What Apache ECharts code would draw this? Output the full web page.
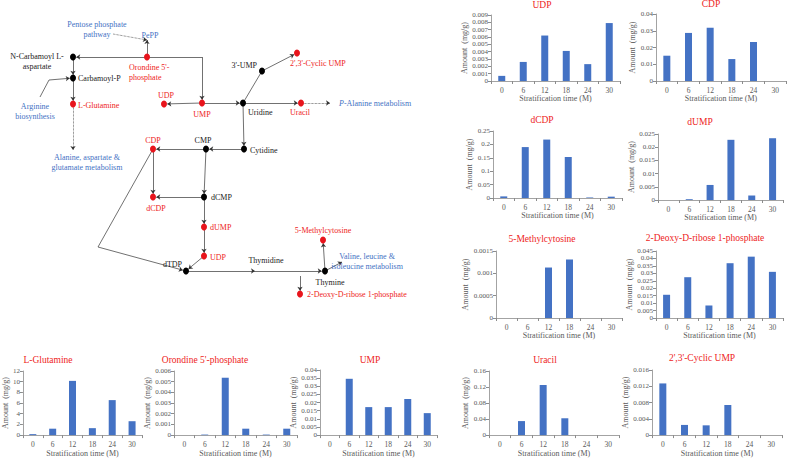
<!DOCTYPE html>
<html><head><meta charset="utf-8">
<script src="https://cdn.jsdelivr.net/npm/echarts/dist/echarts.min.js"></script>
<style>html,body{margin:0;padding:0;background:#fff}#c{width:787px;height:458px}</style>
</head><body><div id="c"></div>
<script>
const RED = '#EE1D23', BLUE = '#4472C4', SERIF = 'Liberation Serif';

// ---------- data ----------
const categories = ['0', '6', '12', '18', '24', '30'];
const panelTitles = ['UDP', 'CDP', 'dCDP', 'dUMP', '5-Methylcytosine', '2-Deoxy-D-ribose 1-phosphate',
  'Uracil', "2',3'-Cyclic UMP", 'L-Glutamine', "Orondine 5'-phosphate", 'UMP'];
const udpValues = [0.0007, 0.0026, 0.0062, 0.0041, 0.0023, 0.0079];
const cdpValues = [0.0151, 0.0287, 0.0318, 0.0131, 0.0233, 0];
const dcdpValues = [0.006, 0.19, 0.218, 0.153, 0.002, 0.005];
const dumpValues = [0, 0.0003, 0.0057, 0.0228, 0.0017, 0.0234];
const methylcytosineValues = [0, 0, 0.00113, 0.00131, 0, 0];
const deoxyriboseValues = [0.0156, 0.0274, 0.0084, 0.0368, 0.0412, 0.031];
const uracilValues = [0, 0.035, 0.125, 0.042, 0, 0];
const cyclicUmpValues = [0.0127, 0.0025, 0.0024, 0.0074, 0, 0];
const glutamineValues = [0.18, 1.2, 10.15, 1.3, 6.55, 2.6];
const orotidineValues = [0, 0.00005, 0.00537, 0.0006, 0.00005, 0.0006];
const umpValues = [0, 0.0346, 0.0172, 0.0172, 0.0222, 0.0135];
const panelValues = [udpValues, cdpValues, dcdpValues, dumpValues, methylcytosineValues, deoxyriboseValues,
  uracilValues, cyclicUmpValues, glutamineValues, orotidineValues, umpValues];
const axisMax = [0.009, 0.04, 0.25, 0.025, 0.0015, 0.045, 0.16, 0.016, 12, 0.006, 0.04];
const axisStep = [0.001, 0.01, 0.05, 0.005, 0.0005, 0.005, 0.04, 0.004, 2, 0.001, 0.005];
const yAxisName = 'Amount  (mg/g)';
const xAxisName = 'Stratification time (M)';

// pathway diagram: [id, label, kind]
const diagramNodes = [
  ['ncarb', 'N-Carbamoyl L-\naspartate', 'black'],
  ['carbp', 'Carbamoyl-P', 'black'],
  ['glut', 'L-Glutamine', 'red'],
  ['orot', "Orondine 5'-\nphosphate", 'red'],
  ['pepp', 'PePP', 'blue'],
  ['ppp', 'Pentose phosphate\npathway', 'blue'],
  ['pppEnd', '', 'hidden'],
  ['peppIn', '', 'hidden'],
  ['orotCorner', '', 'hidden'],
  ['arg', 'Arginine\nbiosynthesis', 'blue'],
  ['argStart', '', 'hidden'],
  ['argCorner', '', 'hidden'],
  ['ala', 'Alanine, aspartate &\nglutamate metabolism', 'blue'],
  ['alaIn', '', 'hidden'],
  ['ump', 'UMP', 'red'],
  ['udp1', 'UDP', 'red'],
  ['uridine', 'Uridine', 'black'],
  ['ump3', "3'-UMP", 'black'],
  ['cyc', "2',3'-Cyclic UMP", 'red'],
  ['uracil', 'Uracil', 'red'],
  ['beta', '{i|P}-Alanine metabolism', 'blue'],
  ['betaIn', '', 'hidden'],
  ['cytidine', 'Cytidine', 'black'],
  ['cmp', 'CMP', 'black'],
  ['cdp', 'CDP', 'red'],
  ['dcmp', 'dCMP', 'black'],
  ['dcdp', 'dCDP', 'red'],
  ['dump', 'dUMP', 'red'],
  ['udp2', 'UDP', 'red'],
  ['dtdp', 'dTDP', 'black'],
  ['diagCorner', '', 'hidden'],
  ['thymidine', 'Thymidine', 'hidden'],
  ['thymidineIn', '', 'hidden'],
  ['thymine', 'Thymine', 'black'],
  ['methyl', '5-Methylcytosine', 'red'],
  ['valine', 'Valine, leucine &\nisoleucine metabolism', 'blue'],
  ['valineIn', '', 'hidden'],
  ['deoxySrc', '', 'hidden'],
  ['deoxy', '2-Deoxy-D-ribose 1-phosphate', 'red']
];
// [source, target, style]
const diagramLinks = [
  ['pppEnd', 'peppIn', 'dotted'], ['orot', 'peppIn', 'arrow'], ['orot', 'ncarb', 'arrow'],
  ['orot', 'orotCorner', 'line'], ['orotCorner', 'ump', 'arrow'],
  ['ncarb', 'carbp', 'arrow'], ['carbp', 'glut', 'arrow'], ['glut', 'alaIn', 'dotted'],
  ['argStart', 'argCorner', 'line'], ['argCorner', 'carbp', 'arrow'],
  ['ump', 'udp1', 'arrow'], ['ump', 'uridine', 'arrow'], ['uridine', 'ump3', 'line'], ['ump3', 'cyc', 'arrow'],
  ['uridine', 'uracil', 'arrow'], ['uracil', 'betaIn', 'dotted'], ['uridine', 'cytidine', 'arrow'],
  ['cytidine', 'cmp', 'arrow'], ['cmp', 'cdp', 'arrow'], ['cmp', 'dcmp', 'arrow'], ['cdp', 'dcdp', 'arrow'],
  ['dcmp', 'dcdp', 'arrow'], ['dcmp', 'dump', 'arrow'], ['dump', 'udp2', 'arrow'], ['udp2', 'dtdp', 'arrow'],
  ['cdp', 'diagCorner', 'line'], ['diagCorner', 'dtdp', 'arrow'], ['dtdp', 'thymidineIn', 'arrow'],
  ['thymidineIn', 'thymine', 'arrow'], ['thymine', 'methyl', 'arrow'], ['thymine', 'valineIn', 'arrow'],
  ['deoxySrc', 'deoxy', 'arrow']
];

// ---------- layout (positions / styles) ----------
const panelBoxes = [[491, 15, 129, 66], [656, 14, 130, 67], [493, 131, 129, 67], [658, 134, 125, 66],
  [496, 251, 126, 67], [656, 251, 127, 67], [489, 371, 130, 66], [652, 370, 130, 66],
  [18, 371, 124, 67], [174, 371, 123, 67], [320, 370, 117, 67]];
const titleAt = [[542, 5], [711, 4], [542, 120], [700, 122], [542, 239], [705, 238], [545, 360], [702, 358],
  [48, 360], [205, 360], [370, 360]];
const yNameGap = [18, 17, 16, 19, 24, 20, 10, 16, 6, 13, 23];

// node position [x,y] and label offset [dx,dy,align]
const nodeLayout = {
  ncarb: [73, 57, -36, 4, 'center'], carbp: [73, 78, 5, 0, 'left'], glut: [73, 104, 5, 1, 'left'],
  orot: [147, 57, -18, 15, 'left'], pepp: [150, 35, 0, 0, 'center'], ppp: [97, 29, 0, 0, 'center'],
  pppEnd: [113, 34], peppIn: [147, 40], orotCorner: [202, 57],
  arg: [35, 111, 0, 0, 'center'], argStart: [40, 97], argCorner: [49, 80],
  ala: [87, 162, 0, 0, 'center'], alaIn: [73, 150],
  ump: [202, 103, 0, 11, 'center'], udp1: [164, 104, 2, -9, 'center'], uridine: [243, 103, 5, 9, 'left'],
  ump3: [262, 71, -5, -6, 'right'], cyc: [297, 53, -7, 10, 'left'], uracil: [301, 103, -1, 9, 'center'],
  beta: [339, 103, 0, 0, 'left'], betaIn: [330, 103],
  cytidine: [244, 149, 6, 1, 'left'], cmp: [206, 149, -3, -9, 'center'], cdp: [153, 149, 0, -9, 'center'],
  dcmp: [204, 197, 7, 0, 'left'], dcdp: [153, 197, 3, 11, 'center'], dump: [204, 227, 6, 0, 'left'],
  udp2: [204, 256, 6, 1, 'left'], dtdp: [186, 271, -4, -7, 'right'], diagCorner: [98, 247],
  thymidine: [266, 260, 0, 0, 'center'], thymidineIn: [255, 271],
  thymine: [325, 271, 5, 11, 'center'], methyl: [323, 240, 0, -10, 'center'],
  valine: [367, 261, 0, 0, 'center'], valineIn: [342, 262], deoxySrc: [300, 276],
  deoxy: [300, 294, 7, 0, 'left']
};

// ---------- build ----------
const grids = [], xAxes = [], yAxes = [], series = [], graphics = [];
panelValues.forEach((vals, i) => {
  const b = panelBoxes[i];
  grids.push({ left: b[0], top: b[1], width: b[2], height: b[3], containLabel: false });
  xAxes.push({
    type: 'category', gridIndex: i, data: categories,
    axisLine: { lineStyle: { color: '#8c8c8c', width: 0.8 } },
    axisTick: { show: true, alignWithLabel: false, length: 3, lineStyle: { color: '#8c8c8c' } },
    axisLabel: { fontSize: 7.5, color: '#595959', margin: 5, interval: 0, fontFamily: SERIF },
    name: xAxisName, nameLocation: 'middle', nameGap: 13,
    nameTextStyle: { fontSize: 8, color: '#595959', fontFamily: SERIF }
  });
  yAxes.push({
    type: 'value', gridIndex: i, min: 0, max: axisMax[i], interval: axisStep[i],
    axisLine: { show: true, lineStyle: { color: '#8c8c8c', width: 0.8 } },
    axisTick: { show: true, length: 3, lineStyle: { color: '#8c8c8c' } },
    splitLine: { show: false },
    axisLabel: { fontSize: 7, color: '#595959', margin: 3, fontFamily: SERIF },
    name: yAxisName, nameLocation: 'middle', nameGap: yNameGap[i], nameRotate: 90,
    nameTextStyle: { fontSize: 8, color: '#595959', fontFamily: SERIF }
  });
  series.push({
    type: 'bar', xAxisIndex: i, yAxisIndex: i, data: vals, barWidth: 7,
    itemStyle: { color: '#4472C4' }, silent: true
  });
  graphics.push({
    type: 'text', x: titleAt[i][0], y: titleAt[i][1],
    style: { text: panelTitles[i], fill: RED, font: '9.5px ' + SERIF, textAlign: 'center', textVerticalAlign: 'middle' }
  });
});

// hidden full-canvas coordinate system for the diagram
const D = panelValues.length;
grids.push({ left: 0, top: 0, width: 787, height: 458 });
xAxes.push({ type: 'value', gridIndex: D, min: 0, max: 787, show: false });
yAxes.push({ type: 'value', gridIndex: D, min: 0, max: 458, inverse: true, show: false });

const nodeData = diagramNodes.map(([id, text, kind]) => {
  const L = nodeLayout[id];
  const isDot = kind === 'black' || kind === 'red';
  const color = kind === 'red' ? RED : (kind === 'blue' ? BLUE : '#1a1a1a');
  return {
    name: id, value: [L[0], L[1]],
    symbol: 'circle', symbolSize: isDot ? [6, 7] : 0,
    itemStyle: { color: kind === 'red' ? '#E8141C' : '#000' },
    label: {
      show: !!text, position: 'inside', offset: [L[2] || 0, L[3] || 0], align: L[4] || 'center',
      verticalAlign: 'middle', formatter: text, color: color, fontSize: 8, fontWeight: 'normal',
      lineHeight: 10, fontFamily: SERIF,
      rich: { i: { fontStyle: 'italic', color: BLUE, fontSize: 8, fontFamily: SERIF } }
    }
  };
});
const linkData = diagramLinks.map(([s, t, style]) => ({
  source: s, target: t,
  symbol: ['none', style === 'line' ? 'none' : 'arrow'], symbolSize: [0, 4],
  lineStyle: { type: style === 'dotted' ? 'dotted' : 'solid', color: '#333', width: 0.7, opacity: 1, curveness: 0 }
}));
series.push({
  type: 'graph', coordinateSystem: 'cartesian2d', xAxisIndex: D, yAxisIndex: D,
  data: nodeData, links: linkData, silent: true, z: 5,
  emphasis: { disabled: true }, animation: false
});

const chart = echarts.init(document.getElementById('c'), null, { renderer: 'svg' });
chart.setOption({
  animation: false, backgroundColor: '#fff',
  grid: grids, xAxis: xAxes, yAxis: yAxes, series: series, graphic: graphics
});
</script></body></html>
